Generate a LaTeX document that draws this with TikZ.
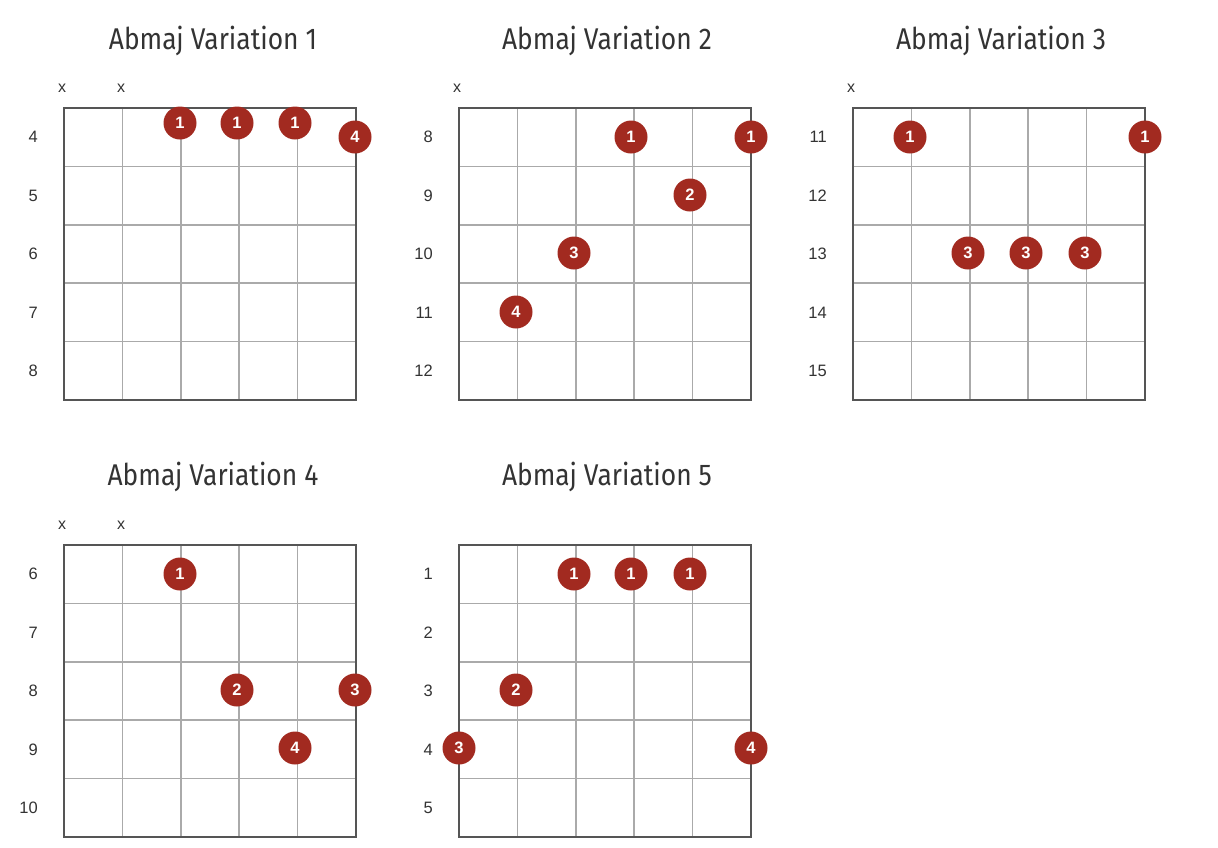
\documentclass[tikz,border=0pt]{standalone}
\usepackage{fontspec}
\setmainfont{Liberation Sans}
\newfontfamily\titlefont[FakeStretch=0.88]{Fira Sans}
\definecolor{dotred}{HTML}{A22A20}
\definecolor{gridgray}{HTML}{AAAAAA}
\definecolor{framegray}{HTML}{555555}
\definecolor{txtgray}{HTML}{333333}
\tikzset{
  charttitle/.style={font=\titlefont\fontsize{30}{30}\selectfont, text=txtgray, inner sep=0pt},
  fretnum/.style={font=\fontsize{16.5}{16.5}\selectfont, text=txtgray, anchor=east, inner sep=0pt},
  mutemark/.style={font=\fontsize{16}{16}\selectfont, text=txtgray, inner sep=0pt},
  fdot/.style={circle, fill=dotred, minimum size=33pt, inner sep=0pt, text=white, font=\bfseries\fontsize{16.5}{16.5}\selectfont},
  innerline/.style={draw=gridgray, line width=1.5pt},
  frameline/.style={draw=framegray, line width=1.5pt},
}
\newcommand\fretboard[4]{% name, x0, y0, first fret
  \begin{scope}[shift={(#2,#3)}]
    \foreach \i in {1,...,4} {
      \draw[innerline] ({\i*58.4},0) -- ({\i*58.4},292);
      \draw[innerline] (0,{\i*58.4}) -- (292,{\i*58.4});
    }
    \draw[frameline] (0,0) rectangle (292,292);
    \foreach \k in {1,...,5} {
      \pgfmathtruncatemacro{\fn}{#4+\k-1}
      \node[fretnum] (#1f\k) at (-26,{(\k-0.5)*58.4}) {\fn};
    }
  \end{scope}}
\begin{document}
\begin{tikzpicture}[x=1pt,y=-1pt]
\useasboundingbox (0,0) rectangle (1218,847);
\fill[white] (0,0) rectangle (1218,847);

% Variation 1
\node[charttitle] (t1) at (213,41) {Abmaj Variation 1};
\fretboard{a}{64}{108}{4}
\node[mutemark] (am1) at (62,88) {x};
\node[mutemark] (am2) at (121,88) {x};
\node[fdot] (ad1) at (180,123) {1};
\node[fdot] (ad2) at (237,123) {1};
\node[fdot] (ad3) at (295,123) {1};
\node[fdot] (ad4) at (355,137) {4};

% Variation 2
\node[charttitle] (t2) at (607,41) {Abmaj Variation 2};
\fretboard{b}{459}{108}{8}
\node[mutemark] (bm1) at (457,88) {x};
\node[fdot] (bd1) at (631,137) {1};
\node[fdot] (bd2) at (751,137) {1};
\node[fdot] (bd3) at (690,195) {2};
\node[fdot] (bd4) at (574,253) {3};
\node[fdot] (bd5) at (516,312) {4};

% Variation 3
\node[charttitle] (t3) at (1001,41) {Abmaj Variation 3};
\fretboard{c}{853}{108}{11}
\node[mutemark] (cm1) at (851,88) {x};
\node[fdot] (cd1) at (910,137) {1};
\node[fdot] (cd2) at (1145,137) {1};
\node[fdot] (cd3) at (968,253) {3};
\node[fdot] (cd4) at (1026,253) {3};
\node[fdot] (cd5) at (1085,253) {3};

% Variation 4
\node[charttitle] (t4) at (213,477) {Abmaj Variation 4};
\fretboard{d}{64}{545}{6}
\node[mutemark] (dm1) at (62,525) {x};
\node[mutemark] (dm2) at (121,525) {x};
\node[fdot] (dd1) at (180,574) {1};
\node[fdot] (dd2) at (237,690) {2};
\node[fdot] (dd3) at (355,690) {3};
\node[fdot] (dd4) at (295,748) {4};

% Variation 5
\node[charttitle] (t5) at (607,477) {Abmaj Variation 5};
\fretboard{e}{459}{545}{1}
\node[fdot] (ed1) at (574,574) {1};
\node[fdot] (ed2) at (631,574) {1};
\node[fdot] (ed3) at (690,574) {1};
\node[fdot] (ed4) at (516,690) {2};
\node[fdot] (ed5) at (459,748) {3};
\node[fdot] (ed6) at (751,748) {4};
\end{tikzpicture}
\end{document}
